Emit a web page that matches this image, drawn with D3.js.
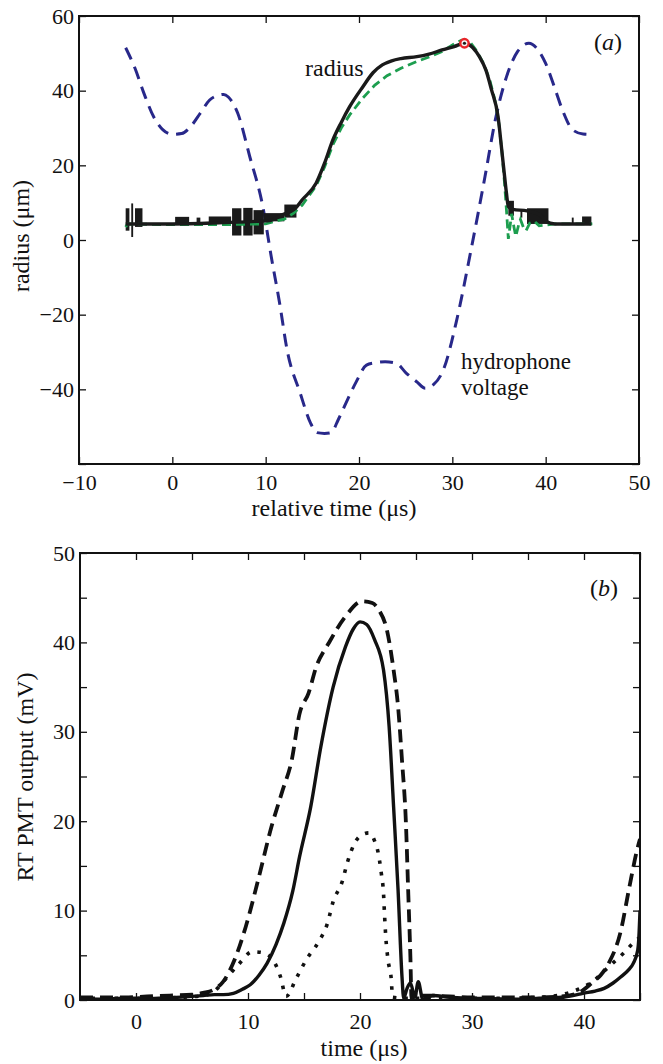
<!DOCTYPE html>
<html>
<head>
<meta charset="utf-8">
<script src="https://cdn.jsdelivr.net/npm/d3@7"></script>
<style>
  body { margin: 0; background: #fff; }
  text { font-family: "Liberation Serif", "DejaVu Serif", serif; fill: #111; }
</style>
</head>
<body>
<div id="chart"></div>
<script>
// panel (a): hydrophone voltage (blue), measured radius (black), model radius (green)
var hydroT = [-5, -4, -3, -2, -1, 0, 1, 2, 3, 4, 5, 5.5, 6, 7, 8.3, 9.7, 10.6, 11.5, 12.3, 13.7, 14.8, 15.5, 16.3, 17, 17.8, 18.6, 19.7, 20.8, 21.7, 22.8, 24, 25, 26.2, 27.1, 28, 29.1, 30.4, 32, 33.5, 34.6, 35.8, 37, 38.2, 39, 40, 41, 41.8, 42.9, 44, 44.9];
var hydroV = [51.5, 46, 39, 33, 29.5, 28.3, 28.5, 30.5, 34, 37.5, 38.8, 39, 38.3, 34, 22.3, 8.9, -4.5, -17, -29.5, -41, -49, -51.6, -51.8, -51.6, -48, -43.7, -38, -33.5, -32.9, -32.6, -33, -35.5, -38, -39.7, -38.7, -34.4, -22.2, -2.7, 17, 32.1, 43.7, 50.5, 52.7, 51.5, 47.3, 40.5, 34.8, 29.5, 28.4, 28.3];

var radT = [-5, 0, 5, 9, 10.5, 11.5, 12.5, 13.2, 13.9, 15.4, 16.3, 17.2, 18.1, 19, 20.4, 21.5, 22.5, 23.5, 24.5, 26.2, 27.5, 28.9, 30.2, 31.3, 32.2, 32.9, 33.6, 34.2, 34.9, 35.3, 35.6, 35.8, 36, 36.5, 38, 39.5, 40, 41, 44.9];
var radV = [4.3, 4.3, 4.6, 5, 5.2, 6.5, 7.5, 8.5, 10.7, 15.2, 20.5, 26.8, 31.5, 35.7, 41, 44.8, 46.9, 48, 48.6, 49.1, 49.8, 50.9, 51.8, 52.7, 51.5, 49.1, 45.5, 40.2, 33, 24, 17, 12.5, 9, 8.2, 7.8, 6.5, 5, 4.3, 4.3];
// jitter blocks of the measured radius: [t0, t1, low, high]
var radNoise = [
  [-5.0, -4.6, 2.5, 8.5], [-4.4, -4.2, 0.8, 9.8], [-4.0, -3.2, 3.5, 8.5], [0.3, 1.8, 4.3, 6.2],
  [2.6, 3.0, 4.3, 6.0], [3.9, 6.3, 4.3, 6.3], [6.4, 7.4, 1.2, 8.5], [7.6, 8.6, 1.2, 8.6],
  [8.7, 9.8, 1.5, 8.0], [9.8, 12.0, 5, 7.2], [12.0, 13.3, 6, 9.5],
  [36.0, 36.6, 6.5, 10.5], [37.3, 37.5, 6, 8], [38.0, 40.3, 4.3, 8.5], [42.8, 43.0, 4.3, 6.0],
  [43.9, 44.9, 4.3, 6.3]
];

var modelT = [-5, -4.8, 0, 5, 10, 11, 12, 13, 13.9, 15.4, 16.3, 17.2, 18.1, 19, 20.4, 21.7, 23, 24.5, 26.2, 27.5, 28.9, 30.2, 31, 31.8, 32.5, 33.3, 34, 34.6, 35, 35.3, 35.6, 35.8, 36, 36.2, 36.35, 36.6, 36.8, 37.1, 37.3, 37.6, 37.9, 38.3, 38.8, 39.3, 40, 41, 45];
var modelV = [3.5, 4.3, 4.1, 4.1, 4.3, 5, 5.6, 7.2, 9.3, 14.5, 19.5, 25.5, 30, 33.5, 38, 41.5, 44, 46, 47.8, 49, 50.5, 52.5, 53.5, 53.3, 51, 47.5, 43, 37, 31, 24, 15, 8, 0.3, 4, 7, 3.5, 1, 4, 5.5, 3.5, 2.5, 4.5, 5, 3.8, 4, 4.3, 4.3];

var peakT = [31.3];
var peakV = [52.7];

// panel (b): RT PMT output
var solidT = [-5, -3, -1, 0, 1, 3, 5, 6, 7, 7.8, 8.7, 9.5, 10.2, 11, 11.7, 12.5, 13.2, 14, 14.6, 15.6, 16.5, 17.6, 18.7, 19.4, 20, 20.6, 21.3, 22.1, 22.6, 23, 23.4, 23.75, 23.9, 24.2, 24.5, 24.9, 25.2, 25.6, 26.5, 28, 30, 32, 34, 36, 38, 39, 39.9, 41, 41.8, 42.6, 43.3, 44, 44.4, 44.8, 44.9, 45];
var solidV = [0.15, 0.1, 0.2, 0.2, 0.15, 0.25, 0.4, 0.5, 0.6, 0.6, 0.75, 1.2, 1.7, 2.8, 4.1, 6.2, 8.6, 12.2, 16, 21.6, 28.3, 35, 39.5, 41.5, 42.3, 42, 40.3, 36.9, 30.6, 21.6, 12.3, 2.6, 0.2, 1.3, 1.9, 0.3, 2.05, 0.1, 0.5, 0.3, 0.2, 0.15, 0.1, 0.2, 0.3, 0.5, 0.75, 1.0, 1.3, 1.9, 2.6, 3.4, 4.1, 5.6, 7, 10];

var dashT = [-5, -3, -1, 1, 3, 5, 6, 7, 7.75, 8.8, 9.8, 10.9, 12.1, 13.1, 13.9, 14.6, 15.4, 16.1, 17.2, 18.7, 20.2, 21.1, 21.7, 22.4, 23, 23.4, 23.75, 24.1, 24.3, 24.5, 24.6, 25, 26, 28, 30, 32, 34, 36, 38, 39.5, 40.7, 41.5, 42.2, 43.3, 44, 44.8, 45];
var dashV = [0.3, 0.3, 0.3, 0.4, 0.5, 0.6, 0.8, 1.2, 2, 4.5, 8.2, 13.4, 19.4, 23.5, 26.8, 32, 34.3, 37.3, 39.9, 42.9, 44.6, 44.4, 43.6, 41.4, 36.9, 32.8, 26.8, 19.8, 12.3, 4.8, 0.2, 0.5, 0.5, 0.4, 0.3, 0.3, 0.3, 0.3, 0.4, 0.8, 1.9, 2.8, 4.1, 7.8, 12.3, 17.1, 18];

var dotT = [-5, -2, 1, 4, 6, 7, 7.9, 9.1, 10.4, 11.3, 12.1, 12.9, 13.4, 14.3, 15.2, 16.3, 17.1, 17.6, 18.4, 18.9, 19.5, 20.2, 20.8, 21.3, 21.6, 21.9, 22.1, 22.2, 22.3, 22.5, 22.8, 22.9, 24, 28, 32, 36, 38, 39.5, 40.7, 42.2, 43.5, 44.5, 45];
var dotV = [0.2, 0.2, 0.2, 0.3, 0.5, 1, 2.2, 3.9, 5.4, 5.3, 4.7, 2.6, 0.4, 2.4, 4.5, 6.5, 8.6, 11, 13.2, 15.5, 17.5, 18.5, 18.7, 17.8, 16.6, 14.2, 11.9, 9.3, 7.1, 4.5, 2.2, 0.3, 0.2, 0.2, 0.2, 0.3, 0.6, 1.2, 2, 3.7, 5.2, 6.5, 7];

var width = 663, height = 1064;

var svg = d3.select('#chart').append('svg')
  .attr('width', width)
  .attr('height', height);

function pairs(t, v) {
  return t.map(function(d, i) { return [d, v[i]]; });
}

// draws the box, inward ticks on all four sides and the tick labels
function drawFrame(g, x, y, xTicks, xLabelled, yTicks, yLabelled, xPad) {
  var x0 = x.range()[0], x1 = x.range()[1];
  var y0 = y.range()[0], y1 = y.range()[1];
  var fmt = d3.format('');

  var bottom = g.append('g').attr('transform', 'translate(0,' + y0 + ')')
    .call(d3.axisBottom(x).tickValues(xTicks).tickSizeInner(-7).tickSizeOuter(0).tickPadding(xPad)
      .tickFormat(function(d) { return xLabelled.indexOf(d) >= 0 ? fmt(d) : ''; }));
  var top = g.append('g').attr('transform', 'translate(0,' + y1 + ')')
    .call(d3.axisTop(x).tickValues(xTicks).tickSizeInner(-7).tickSizeOuter(0).tickFormat(''));
  var left = g.append('g').attr('transform', 'translate(' + x0 + ',0)')
    .call(d3.axisLeft(y).tickValues(yTicks).tickSizeInner(-7).tickSizeOuter(0).tickPadding(5)
      .tickFormat(function(d) { return yLabelled.indexOf(d) >= 0 ? fmt(d) : ''; }));
  var right = g.append('g').attr('transform', 'translate(' + x1 + ',0)')
    .call(d3.axisRight(y).tickValues(yTicks).tickSizeInner(-7).tickSizeOuter(0).tickFormat(''));

  [bottom, top, left, right].forEach(function(a) {
    a.select('.domain').remove();
    a.selectAll('line').attr('stroke', '#111').attr('stroke-width', 1.3);
    a.selectAll('text')
      .attr('font-family', '"Liberation Serif", serif')
      .attr('font-size', 22)
      .attr('fill', '#111');
  });

  g.append('rect')
    .attr('x', x0)
    .attr('y', y1)
    .attr('width', x1 - x0)
    .attr('height', y0 - y1)
    .attr('fill', 'none')
    .attr('stroke', '#111')
    .attr('stroke-width', 2);
}

// ---------- panel (a) ----------
var xa = d3.scaleLinear().domain([-10, 50]).range([79, 639]);
var ya = d3.scaleLinear().domain([-60, 60]).range([464, 16]);
var ga = svg.append('g');

ga.append('defs').append('clipPath').attr('id', 'clip-a')
  .append('rect')
  .attr('x', 79).attr('y', 16).attr('width', 560).attr('height', 448);

var lineA = d3.line()
  .x(function(d) { return xa(d[0]); })
  .y(function(d) { return ya(d[1]); })
  .curve(d3.curveMonotoneX);

var plotA = ga.append('g').attr('clip-path', 'url(#clip-a)');

plotA.append('path')
  .datum(pairs(hydroT, hydroV))
  .attr('d', lineA)
  .attr('fill', 'none')
  .attr('stroke', '#28288a')
  .attr('stroke-width', 3)
  .attr('stroke-dasharray', '13,8');

plotA.selectAll('rect.noise')
  .data(radNoise)
  .enter().append('rect')
  .attr('class', 'noise')
  .attr('x', function(d) { return xa(d[0]); })
  .attr('y', function(d) { return ya(d[3]); })
  .attr('width', function(d) { return xa(d[1]) - xa(d[0]); })
  .attr('height', function(d) { return ya(d[2]) - ya(d[3]); })
  .attr('fill', '#1a1a1a');

plotA.append('path')
  .datum(pairs(modelT, modelV))
  .attr('d', lineA.curve(d3.curveLinear))
  .attr('fill', 'none')
  .attr('stroke', '#1d9e4f')
  .attr('stroke-width', 2.8)
  .attr('stroke-dasharray', '9,5');

plotA.append('path')
  .datum(pairs(radT, radV))
  .attr('d', lineA.curve(d3.curveMonotoneX))
  .attr('fill', 'none')
  .attr('stroke', '#1a1a1a')
  .attr('stroke-width', 3.4);

var peak = plotA.selectAll('g.peak')
  .data(pairs(peakT, peakV))
  .enter().append('g')
  .attr('class', 'peak')
  .attr('transform', function(d) { return 'translate(' + xa(d[0]) + ',' + ya(d[1]) + ')'; });
peak.append('circle')
  .attr('r', 4.2)
  .attr('fill', '#f4f4f4')
  .attr('stroke', '#e8262b')
  .attr('stroke-width', 2.4);
peak.append('circle')
  .attr('r', 1.6)
  .attr('fill', '#1a1a1a');

drawFrame(ga, xa, ya, d3.range(-10, 51, 10), d3.range(-10, 51, 10),
  d3.range(-60, 61, 20), [-40, -20, 0, 20, 40, 60], 10);

ga.append('text')
  .attr('x', 305).attr('y', 76)
  .attr('font-size', 24)
  .text('radius');

ga.append('text')
  .attr('x', 461).attr('y', 369)
  .attr('font-size', 23)
  .text('hydrophone');

ga.append('text')
  .attr('x', 461).attr('y', 395)
  .attr('font-size', 23)
  .text('voltage');

var labA = ga.append('text')
  .attr('x', 594).attr('y', 50)
  .attr('font-size', 24);
labA.append('tspan').text('(');
labA.append('tspan').attr('font-style', 'italic').text('a');
labA.append('tspan').text(')');

ga.append('text')
  .attr('x', 334).attr('y', 516)
  .attr('text-anchor', 'middle')
  .attr('font-size', 24)
  .text('relative time (\u03bcs)');

ga.append('text')
  .attr('transform', 'translate(29,236) rotate(-90)')
  .attr('text-anchor', 'middle')
  .attr('font-size', 24)
  .text('radius (\u03bcm)');

// ---------- panel (b) ----------
var xb = d3.scaleLinear().domain([-5, 45]).range([80, 640]);
var yb = d3.scaleLinear().domain([0, 50]).range([1000, 553]);
var gb = svg.append('g');

gb.append('defs').append('clipPath').attr('id', 'clip-b')
  .append('rect')
  .attr('x', 80).attr('y', 553).attr('width', 560).attr('height', 447);

var lineB = d3.line()
  .x(function(d) { return xb(d[0]); })
  .y(function(d) { return yb(d[1]); })
  .curve(d3.curveMonotoneX);

var plotB = gb.append('g').attr('clip-path', 'url(#clip-b)');

plotB.append('path')
  .datum(pairs(dotT, dotV))
  .attr('d', lineB)
  .attr('fill', 'none')
  .attr('stroke', '#111')
  .attr('stroke-width', 3.6)
  .attr('stroke-dasharray', '3.5,8');

plotB.append('path')
  .datum(pairs(dashT, dashV))
  .attr('d', lineB)
  .attr('fill', 'none')
  .attr('stroke', '#111')
  .attr('stroke-width', 3.8)
  .attr('stroke-dasharray', '13,7');

plotB.append('path')
  .datum(pairs(solidT, solidV))
  .attr('d', lineB)
  .attr('fill', 'none')
  .attr('stroke', '#111')
  .attr('stroke-width', 3.4);

drawFrame(gb, xb, yb, d3.range(0, 46, 5), [0, 10, 20, 30, 40],
  d3.range(0, 51, 5), [0, 10, 20, 30, 40, 50], 13);

var labB = gb.append('text')
  .attr('x', 590).attr('y', 596)
  .attr('font-size', 24);
labB.append('tspan').text('(');
labB.append('tspan').attr('font-style', 'italic').text('b');
labB.append('tspan').text(')');

gb.append('text')
  .attr('x', 364).attr('y', 1056)
  .attr('text-anchor', 'middle')
  .attr('font-size', 24)
  .text('time (\u03bcs)');

gb.append('text')
  .attr('transform', 'translate(33,777) rotate(-90)')
  .attr('text-anchor', 'middle')
  .attr('font-size', 24)
  .text('RT PMT output (mV)');
</script>
</body>
</html>
